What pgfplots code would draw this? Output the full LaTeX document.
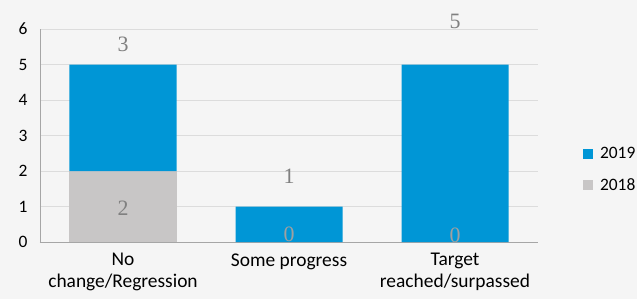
\documentclass[border=0pt]{standalone}
\usepackage{pgfplots}
\pgfplotsset{compat=1.18}
\usepackage{fontspec}
\setmainfont{Carlito}
\newfontfamily\seriffont{Liberation Serif}
\definecolor{bg}{HTML}{F5F5F5}
\definecolor{blu}{HTML}{0096D6}
\definecolor{gry}{HTML}{C8C6C6}
\definecolor{gridc}{HTML}{DCDCDC}
\definecolor{axc}{HTML}{A6A6A6}
\definecolor{lab}{HTML}{808080}
\definecolor{labl}{HTML}{A0A0A0}
\pgfplotsset{sqlegend/.style={legend image code/.code={\fill[##1, draw=none] (0bp,-5bp) rectangle (10bp,5bp); \path (15bp,0bp);}}}
\begin{document}
\begin{tikzpicture}
\path[use as bounding box, fill=bg] (-40bp,-57bp) rectangle (597bp,242bp);
\begin{axis}[
  at={(0,0)}, anchor=south west,
  scale only axis, width=498bp, height=213bp,
  xmin=-0.5, xmax=2.5, ymin=0, ymax=6,
  ytick={0,1,...,6},
  xtick={0,1,2},
  xticklabels={{No\\change/Regression},{Some progress},{Target\\reached/surpassed}},
  xticklabel style={align=center, font=\fontsize{19.5}{22}\selectfont, text=black, yshift=-8bp},
  yticklabel style={font=\fontsize{17.5}{18}\selectfont, text=black, xshift=-9bp},
  /pgf/number format/assume math mode=true,
  major tick length=0pt,
  ymajorgrids, grid style={gridc, line width=0.8pt},
  axis x line*=bottom, axis y line*=left,
  axis line style={axc, line width=0.8pt},
  clip=false,
  legend style={at={(1.09,0.34)}, anchor=west, draw=none, fill=none,
    font=\fontsize{17.5}{18}\selectfont, row sep=14bp, inner sep=0pt,
    legend cell align=left},
  reverse legend,
]
\addplot[ybar stacked, bar width=107bp, fill=gry, draw=none, sqlegend] coordinates {(0,2) (1,0) (2,0)};
\addlegendentry{2018}
\addplot[ybar stacked, bar width=107bp, fill=blu, draw=none, sqlegend] coordinates {(0,3) (1,1) (2,5)};
\addlegendentry{2019}
% data labels
\addplot[only marks, mark=none, forget plot, point meta=explicit symbolic,
  nodes near coords, every node near coord/.append style={anchor=center, text=lab, font=\seriffont\fontsize{22}{22}\selectfont, inner sep=0pt}]
  table[meta=t] {
x y t
0 5.58 3
1 1.86 1
2 6.2 5
0 0.96 2
};
\addplot[only marks, mark=none, forget plot, point meta=explicit symbolic,
  nodes near coords, every node near coord/.append style={anchor=center, text=labl, font=\seriffont\fontsize{22}{22}\selectfont, inner sep=0pt}]
  table[meta=t] {
x y t
1 0.22 0
2 0.2 0
};
\end{axis}
\end{tikzpicture}
\end{document}
